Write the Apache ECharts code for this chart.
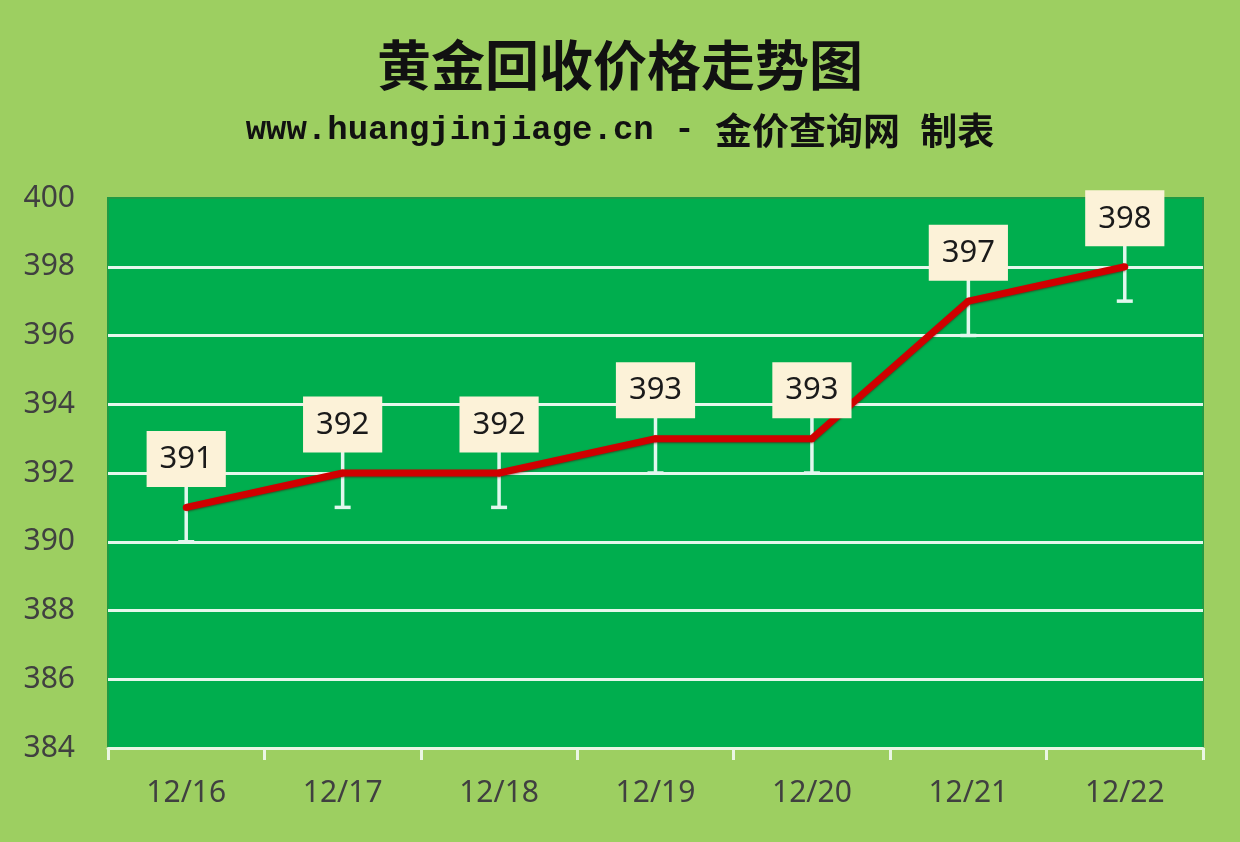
<!DOCTYPE html>
<html>
<head>
<meta charset="utf-8">
<script src="https://cdn.jsdelivr.net/npm/echarts@6/dist/echarts.min.js"></script>
<style>
html,body{margin:0;padding:0;background:#9DCF61;}
#chart{width:1240px;height:842px;}
</style>
</head>
<body>
<div id="chart"></div>
<script>
const categories = ['12/16', '12/17', '12/18', '12/19', '12/20', '12/21', '12/22'];
const prices = [391, 392, 392, 393, 393, 397, 398];
const errorAmount = [1, 1, 1, 1, 1, 1, 1];
const titleText = '黄金回收价格走势图';
const subtitleUrl = 'www.huangjinjiage.cn - ';
const subtitleCn1 = '金价查询网';
const subtitleCn2 = '制表';

const errorData = prices.map((v, i) => [i, v - errorAmount[i], v + errorAmount[i]]);

const chart = echarts.init(document.getElementById('chart'));
chart.setOption({
  backgroundColor: '#9DCF61',
  animation: false,
  title: [
    {
      text: titleText,
      left: 'center',
      top: 33,
      textStyle: {
        fontFamily: 'Noto Sans CJK SC',
        fontWeight: 'bold',
        fontSize: 54,
        color: '#111'
      }
    },
    {
      text: '{a|' + subtitleUrl + '}{b|' + subtitleCn1 + '}{a| }{b|' + subtitleCn2 + '}',
      left: 'center',
      top: 107,
      textStyle: {
        rich: {
          a: { fontFamily: 'Liberation Mono', fontWeight: 'bold', fontSize: 34, color: '#111' },
          b: { fontFamily: 'Noto Sans CJK SC', fontWeight: 'bold', fontSize: 37, color: '#111' }
        }
      }
    }
  ],
  grid: {
    left: 108, right: 37, top: 198, bottom: 94,
    show: true,
    backgroundColor: '#00AE4E',
    borderColor: '#1F9A45',
    borderWidth: 2
  },
  xAxis: {
    type: 'category',
    data: categories,
    boundaryGap: true,
    axisLine: { show: true, lineStyle: { color: '#EAF6E4', width: 3 } },
    axisTick: { show: true, length: 12, lineStyle: { color: '#EAF6E4', width: 3 } },
    axisLabel: {
      margin: 30,
      fontFamily: 'Noto Sans',
      fontSize: 30,
      color: '#404040'
    },
    splitLine: { show: false }
  },
  yAxis: {
    type: 'value',
    min: 384,
    max: 400,
    interval: 2,
    axisLine: { show: false },
    axisTick: { show: false },
    axisLabel: {
      margin: 33,
      fontFamily: 'Noto Sans',
      fontSize: 30,
      color: '#404040'
    },
    splitLine: {
      show: true,
      showMaxLine: false,
      showMinLine: false,
      lineStyle: { color: '#E6F7EC', width: 3 }
    }
  },
  series: [
    {
      type: 'custom',
      z: 2,
      data: errorData,
      renderItem: function (params, api) {
        const x = api.value(0);
        const lo = api.coord([x, api.value(1)]);
        const hi = api.coord([x, api.value(2)]);
        const half = 8;
        const style = { stroke: '#E2F7EE', lineWidth: 3.5 };
        return {
          type: 'group',
          children: [
            { type: 'line', shape: { x1: lo[0], y1: lo[1], x2: hi[0], y2: hi[1] }, style: style },
            { type: 'line', shape: { x1: lo[0] - half, y1: lo[1], x2: lo[0] + half, y2: lo[1] }, style: style },
            { type: 'line', shape: { x1: hi[0] - half, y1: hi[1], x2: hi[0] + half, y2: hi[1] }, style: style }
          ]
        };
      }
    },
    {
      type: 'line',
      z: 3,
      data: prices,
      symbol: 'circle',
      symbolSize: 7,
      itemStyle: { color: '#D00000' },
      lineStyle: {
        color: '#D00000',
        width: 7,
        shadowColor: 'rgba(80,0,0,0.5)',
        shadowBlur: 2,
        shadowOffsetY: 1
      },
      label: {
        show: true,
        position: 'top',
        distance: 17,
        fontFamily: 'Noto Sans',
        fontSize: 31,
        color: '#1A1A1A',
        backgroundColor: '#FCF2D8',
        padding: [13, 13, 12, 13]
      }
    }
  ]
});
</script>
</body>
</html>
